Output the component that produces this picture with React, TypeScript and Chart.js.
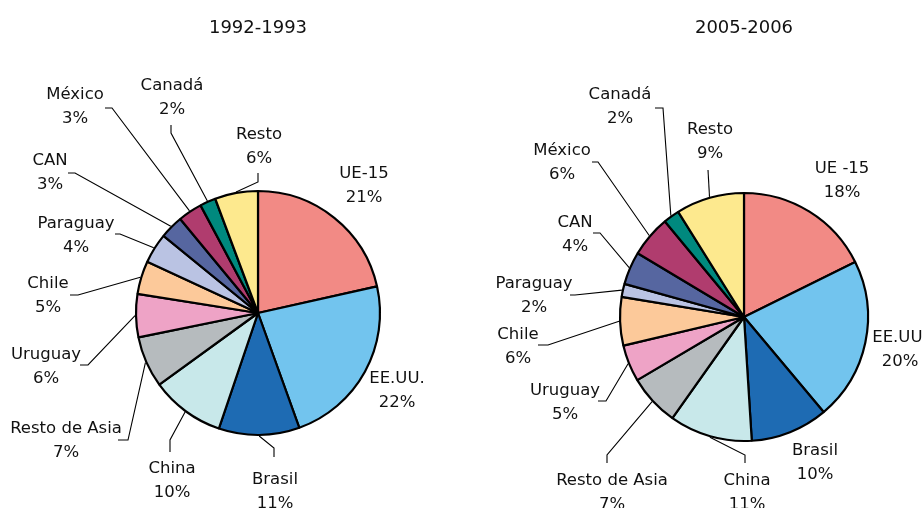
import React, { useEffect, useRef } from "react";
import { Chart, registerables } from "chart.js";

Chart.register(...registerables);

// ---- data ----
const titles = ["1992-1993", "2005-2006"];
const names1992 = ["UE-15", "EE.UU.", "Brasil", "China", "Resto de Asia", "Uruguay", "Chile", "Paraguay", "CAN", "México", "Canadá", "Resto"];
const names2005 = ["UE -15", "EE.UU.", "Brasil", "China", "Resto de Asia", "Uruguay", "Chile", "Paraguay", "CAN", "México", "Canadá", "Resto"];
const shares1992 = [21.5, 23.0, 10.7, 9.8, 6.8, 5.7, 4.4, 4.0, 3.1, 3.2, 2.1, 5.7];
const shares2005 = [17.7, 21.2, 10.1, 10.8, 6.7, 4.8, 6.3, 1.7, 4.3, 5.4, 2.1, 8.9];
const pct1992 = ["21%", "22%", "11%", "10%", "7%", "6%", "5%", "4%", "3%", "3%", "2%", "6%"];
const pct2005 = ["18%", "20%", "10%", "11%", "7%", "5%", "6%", "2%", "4%", "6%", "2%", "9%"];

// ---- style ----
const sliceColors = ["#F28A85", "#72C4EE", "#1E6BB3", "#C8E8EA", "#B6BBBE", "#EEA3C6", "#FCC99A", "#BAC3E3", "#5666A0", "#B03C6E", "#00897E", "#FDE98E"];

// label layout relative to the pie centre: [textX, textY, elbowX, elbowY, endX, endY] (null = no leader)
type Lay = (number | null)[];
const layout1992: Lay[] = [
  [106, -141, null, null, null, null],
  [139, 64, null, null, null, null],
  [17, 165, 16, 135, 16, 144],
  [-86, 154, -88, 127, -88, 139],
  [-192, 114, -130, 127, -140, 127],
  [-212, 40, -170, 52, -178, 52],
  [-210, -31, -180, -18, -188, -18],
  [-182, -91, -138, -79, -143, -79],
  [-208, -154, -183, -140, -190, -140],
  [-183, -220, -146, -205, -153, -205],
  [-86, -229, -87, -180, -87, -188],
  [1, -180, 0, -131, 0, -140],
];
const layout2005: Lay[] = [
  [98, -150, null, null, null, null],
  [156, 19, null, null, null, null],
  [71, 132, null, null, null, null],
  [3, 162, 1, 138, 1, 146],
  [-132, 162, -137, 138, -137, 146],
  [-179, 72, -138, 84, -146, 84],
  [-226, 16, -196, 28, -206, 28],
  [-210, -35, -169, -22, -174, -22],
  [-169, -96, -144, -84, -151, -84],
  [-182, -168, -146, -155, -152, -155],
  [-124, -224, -81, -209, -89, -209],
  [-34, -189, -36, -147, -36, -147],
];

const FONT = '"DejaVu Sans", "Noto Sans", sans-serif';

function makePlugin(title: string, names: string[], pcts: string[], layout: Lay[]) {
  return {
    id: "leaderLabels",
    afterDraw(chart: any) {
      const ctx = chart.ctx as CanvasRenderingContext2D;
      const arcs = chart.getDatasetMeta(0).data as any[];
      if (!arcs.length) return;
      const cx = arcs[0].x;
      const cy = arcs[0].y;
      ctx.save();
      ctx.fillStyle = "#111";
      ctx.textAlign = "center";
      ctx.textBaseline = "alphabetic";
      ctx.font = `18px ${FONT}`;
      ctx.fillText(title, cx, 33);

      ctx.strokeStyle = "#000";
      ctx.lineWidth = 1.1;
      arcs.forEach((arc, i) => {
        const L = layout[i];
        if (L[2] !== null) {
          const a = (arc.startAngle + arc.endAngle) / 2;
          const r = arc.outerRadius + 1;
          ctx.beginPath();
          ctx.moveTo(cx + r * Math.cos(a), cy + r * Math.sin(a));
          ctx.lineTo(cx + (L[2] as number), cy + (L[3] as number));
          ctx.lineTo(cx + (L[4] as number), cy + (L[5] as number));
          ctx.stroke();
        }
      });
      ctx.font = `16.5px ${FONT}`;
      arcs.forEach((_arc, i) => {
        const L = layout[i];
        const tx = cx + (L[0] as number);
        const ty = cy + (L[1] as number);
        ctx.fillText(names[i], tx, ty + 6);
        ctx.fillText(pcts[i], tx, ty + 30);
      });
      ctx.restore();
    },
  };
}

function PieCanvas(props: {
  title: string; names: string[]; values: number[]; pcts: string[]; layout: Lay[];
  radius: number; padL: number; padT: number;
}) {
  const ref = useRef<HTMLCanvasElement | null>(null);
  useEffect(() => {
    if (!ref.current) return;
    const chart = new Chart(ref.current, {
      type: "pie",
      data: {
        labels: props.names,
        datasets: [{
          data: props.values,
          backgroundColor: sliceColors,
          borderColor: "#000",
          borderWidth: 2.2,
          radius: props.radius,
        } as any],
      },
      options: {
        animation: false,
        responsive: false,
        layout: { padding: { left: props.padL, top: props.padT, right: 0, bottom: 0 } },
        plugins: { legend: { display: false }, tooltip: { enabled: false }, title: { display: false } },
        events: [],
      } as any,
      plugins: [makePlugin(props.title, props.names, props.pcts, props.layout)],
    });
    return () => chart.destroy();
  }, []);
  return <canvas ref={ref} width={462} height={508} style={{ display: "block", width: 462, height: 508 }} />;
}

export default function App() {
  return (
    <div style={{ position: "absolute", left: 0, top: 0, width: 924, height: 508, display: "flex", background: "#fff", overflow: "hidden" }}>
      <PieCanvas title={titles[0]} names={names1992} values={shares1992} pcts={pct1992} layout={layout1992} radius={122} padL={54} padT={118} />
      <PieCanvas title={titles[1]} names={names2005} values={shares2005} pcts={pct2005} layout={layout2005} radius={124} padL={102} padT={126} />
    </div>
  );
}
